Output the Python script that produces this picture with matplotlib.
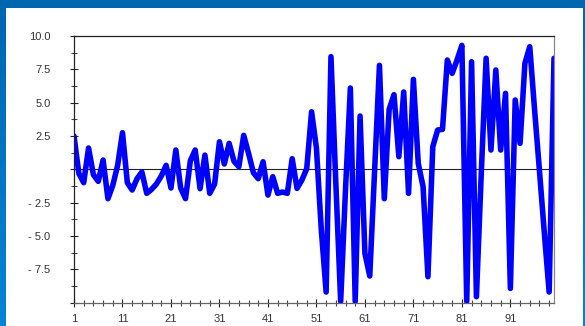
import matplotlib
matplotlib.use("Agg")
import matplotlib.pyplot as plt
import numpy as np
from matplotlib.patches import Rectangle


# Data (index 1..100)
values = [
    2.5, -0.3, -1.0, 1.6, -0.4, -0.9, 0.7, -2.2, -1.2, 0.3,
    2.75, -1.0, -1.55, -0.7, -0.2, -1.8, -1.5, -1.1, -0.5, 0.3,
    -1.4, 1.45, -1.4, -2.2, 0.65, 1.45, -1.45, 1.07, -1.8, -1.1,
    2.07, 0.4, 1.95, 0.6, 0.2, 2.55, 1.2, -0.25, -0.7, 0.57,
    -1.93, -0.55, -1.8, -1.7, -1.8, 0.8, -1.43, -0.8, 0.05, 4.32,
    1.6, -4.5, -9.2, 8.45, -1.0, -9.9, -1.5, 6.1, -9.9, 4.0,
    -6.3, -8.0, -0.1, 7.8, -2.2, 4.5, 5.6, 0.95, 5.8, -1.8,
    6.75, 0.45, -1.3, -8.05, 1.7, 2.95, 3.0, 8.2, 7.2, 8.2,
    9.3, -9.9, 8.07, -9.55, -0.3, 8.33, 1.45, 7.45, 1.45, 5.7,
    -8.93, 5.2, 1.95, 7.95, 9.2, 4.45, -0.1, -4.75, -9.2, 8.33,
]
x_ticks = [1, 11, 21, 31, 41, 51, 61, 71, 81, 91]
y_ticks = [-10.0, -7.5, -5.0, -2.5, 0.0, 2.5, 5.0, 7.5, 10.0]
y_labels = ["", "- 7.5", "- 5.0", "- 2.5", "", "2.5", "5.0", "7.5", "10.0"]

W, H, DPI = 585, 326, 100
LABEL_COLOR = "#333333"


def prepare_canvas():
    fig = plt.figure(figsize=(W / DPI, H / DPI), dpi=DPI)

    # blue frame with a slight vertical gradient, white panel on top
    bg = fig.add_axes([0, 0, 1, 1])
    grad = np.linspace(0, 1, 256).reshape(-1, 1)
    top = np.array([0x00, 0x66, 0xB0]) / 255
    bot = np.array([0x00, 0x84, 0xD6]) / 255
    img = top + grad[:, :, None] * (bot - top)
    bg.imshow(img, aspect="auto", extent=[0, 1, 0, 1], origin="upper")
    bg.add_patch(Rectangle((6 / W, 0), (583 - 6) / W, (H - 8) / H,
                           facecolor="white", edgecolor="none"))
    bg.set_xlim(0, 1)
    bg.set_ylim(0, 1)
    bg.axis("off")

    ax = fig.add_axes([74 / W, 1 - 302.7 / H, (554 - 74) / W, (302.7 - 36) / H])
    ax.set_facecolor("none")
    return fig, ax


def draw(ax):
    x = np.arange(1, len(values) + 1)
    ax.axhline(0, color="#222222", lw=0.8, zorder=1)
    ax.plot(x, values, color="#0000FF", lw=4.0, solid_joinstyle="round",
            solid_capstyle="round", zorder=2)

    ax.set_xlim(1, 100)
    ax.set_ylim(-10, 10)

    ax.set_xticks(x_ticks)
    ax.set_xticklabels([str(t) for t in x_ticks])
    ax.set_xticks(np.arange(3, 100, 2), minor=True)
    ax.set_yticks(y_ticks)
    ax.set_yticklabels(y_labels)
    ax.set_yticks(np.arange(-8.75, 10, 2.5), minor=True)

    ax.tick_params(axis="both", which="major", direction="inout", length=6,
                   width=0.8, color="#222222", labelsize=8,
                   labelcolor=LABEL_COLOR)
    ax.tick_params(axis="both", which="minor", direction="inout", length=4,
                   width=0.8, color="#444444")
    ax.tick_params(axis="y", which="major", pad=14)
    ax.tick_params(axis="x", which="major", pad=5)

    for lbl in ax.get_xticklabels() + ax.get_yticklabels():
        lbl.set_fontfamily("Liberation Sans")

    ax.spines["left"].set_color("#222222")
    ax.spines["top"].set_color("#222222")
    ax.spines["bottom"].set_color("#666666")
    ax.spines["right"].set_color("#888888")
    for s in ax.spines.values():
        s.set_linewidth(0.9)


fig, ax = prepare_canvas()
draw(ax)
fig.savefig("out.png", dpi=DPI)
